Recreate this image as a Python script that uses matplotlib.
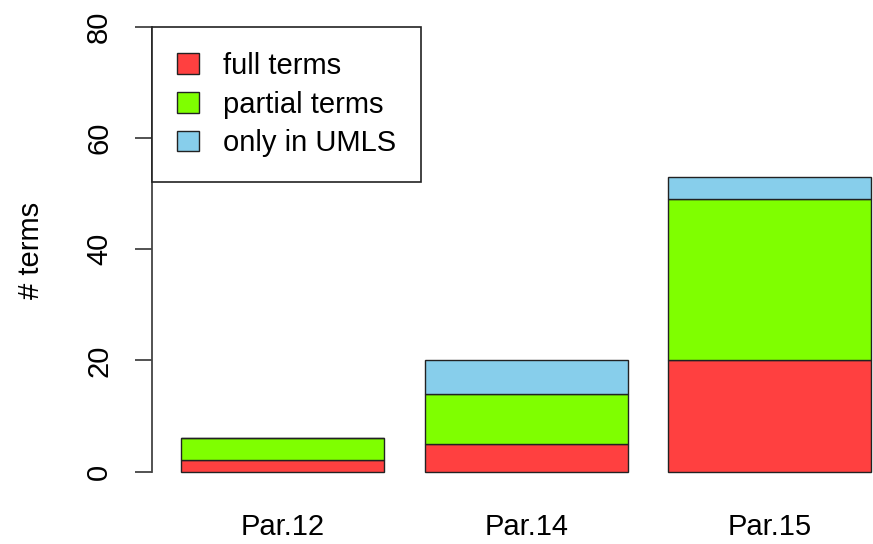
import matplotlib
matplotlib.use("Agg")
import matplotlib.pyplot as plt
import numpy as np

# term counts per paragraph, stacked
groups = ["Par.12", "Par.14", "Par.15"]
full_terms = [2, 5, 20]
partial_terms = [4, 9, 29]
only_umls = [0, 6, 4]

series_names = ["full terms", "partial terms", "only in UMLS"]
series_colors = ["#FF4040", "#7FFF00", "#87CEEB"]

plt.rcParams["font.family"] = ["Liberation Sans", "DejaVu Sans"]

fig = plt.figure(figsize=(8.73, 5.44), dpi=100)
# axes box laid out like an R plot region (4% padding on the y range)
ax = fig.add_axes([152 / 873, (544 - 489.3) / 544, 1 - 152 / 873, (489.3 - 9.2) / 544])

x = np.array([0.7, 1.9, 3.1])
bottom = np.zeros(len(groups))
for vals, name, col in zip([full_terms, partial_terms, only_umls], series_names, series_colors):
    vals = np.array(vals, dtype=float)
    ax.bar(x, vals, width=1.0, bottom=bottom, color=col, edgecolor="#222222",
           linewidth=1.0, label=name)
    bottom += vals

ax.set_xlim(0.057, 3.608)
ax.set_ylim(-3.2, 83.2)

for side in ["top", "right", "bottom"]:
    ax.spines[side].set_visible(False)
ax.spines["left"].set_bounds(0, 80)
ax.spines["left"].set_color("#444444")
ax.spines["left"].set_linewidth(1.3)

ax.set_yticks([0, 20, 40, 60, 80])
ax.tick_params(axis="y", length=12, width=1.3, color="#444444", pad=16,
               labelsize=21, labelrotation=90)
for lab in ax.get_yticklabels():
    lab.set_va("center")

ax.set_xticks(x)
ax.set_xticklabels(groups)
ax.tick_params(axis="x", length=0, pad=17, labelsize=21)

ax.set_ylabel("# terms", fontsize=21, va="center")
ax.yaxis.set_label_coords((31 - 152) / (873 - 152), (489.3 - 250) / (489.3 - 9.2))

leg = ax.legend(loc="upper left", bbox_to_anchor=(0.057, 80), bbox_transform=ax.transData,
                fontsize=21, frameon=True, fancybox=False, framealpha=1,
                edgecolor="#222222", borderaxespad=0, borderpad=0.85,
                handlelength=0.75, handleheight=0.7, handletextpad=0.85,
                labelspacing=0.37)
leg.get_frame().set_linewidth(1.2)

fig.savefig("out.png", dpi=100)
